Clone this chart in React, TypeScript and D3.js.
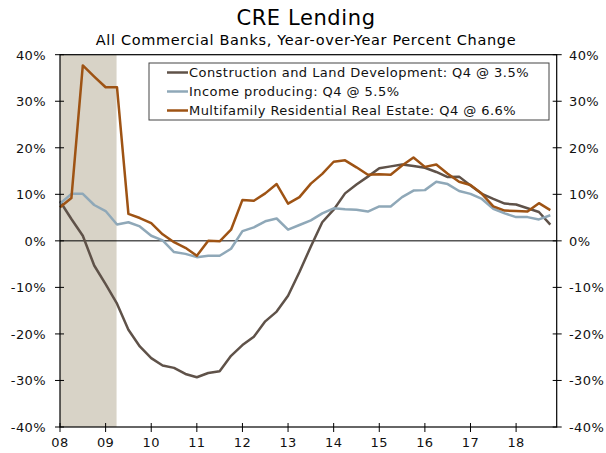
import * as d3 from "d3";

const startYear = 2008;
const yearLabels = ["08", "09", "10", "11", "12", "13", "14", "15", "16", "17", "18"];
const yTicks = [-40, -30, -20, -10, 0, 10, 20, 30, 40];
const recession = [2008.0, 2009.24];

// quarterly, 2008Q1 .. 2018Q4
const construction = [
  8.5, 4.7, 1.1, -5.3, -9.3, -13.5, -19.1, -22.7, -25.2, -26.8, -27.3, -28.6,
  -29.3, -28.4, -28.0, -24.7, -22.4, -20.6, -17.3, -15.2, -11.8, -6.7, -1.2, 4.0,
  6.7, 10.2, 12.1, 13.8, 15.6, 16.0, 16.4, 16.1, 15.7, 14.8, 13.7, 13.8,
  11.9, 10.1, 9.0, 8.0, 7.8, 7.0, 6.2, 3.5,
];
const income = [
  8.0, 10.1, 10.1, 7.7, 6.4, 3.5, 4.0, 3.1, 1.1, 0.1, -2.4, -2.8,
  -3.5, -3.2, -3.2, -1.7, 2.1, 2.9, 4.2, 4.8, 2.4, 3.4, 4.4, 5.9,
  7.0, 6.8, 6.7, 6.3, 7.4, 7.4, 9.4, 10.8, 10.9, 12.7, 12.2, 10.7,
  10.1, 9.0, 6.9, 5.9, 5.1, 5.1, 4.6, 5.5,
];
const multifamily = [
  7.2, 9.2, 37.7, 35.3, 33.0, 33.0, 5.8, 4.9, 3.8, 1.4, -0.3, -1.5,
  -3.2, 0.0, -0.1, 2.4, 8.8, 8.6, 10.2, 12.2, 8.0, 9.4, 12.3, 14.4,
  17.0, 17.3, 15.8, 14.2, 14.3, 14.2, 16.2, 17.9, 15.9, 16.4, 14.4, 12.7,
  12.0, 10.1, 7.4, 6.5, 6.4, 6.3, 8.1, 6.6,
];

const series = [
  { name: "Construction and Land Development: Q4 @ 3.5%", values: construction, color: "#5f5249" },
  { name: "Income producing: Q4 @ 5.5%", values: income, color: "#8fa8b8" },
  { name: "Multifamily Residential Real Estate: Q4 @ 6.6%", values: multifamily, color: "#9e5314" },
];

const font = "Verdana, 'DejaVu Sans', sans-serif";

export default function App() {
  const width = 606;
  const height = 453;
  const left = 60;
  const right = 556.7;
  const top = 54.7;
  const bottom = 427;

  const x = d3.scaleLinear().domain([2008, 2018.89]).range([left, right]);
  const y = d3.scaleLinear().domain([-40, 40]).range([bottom, top]);

  const line = d3
    .line<number>()
    .x((_, i) => x(startYear + i / 4))
    .y((d) => y(d));

  return (
    <svg
      width={width}
      height={height}
      style={{ position: "absolute", left: 0, top: 0, fontFamily: font }}
    >
      <rect width={width} height={height} fill="#fff" />
      <text x={306} y={25} textAnchor="middle" fontSize={21} letterSpacing={0.6} fill="#000">
        CRE Lending
      </text>
      <text x={306} y={45} textAnchor="middle" fontSize={14.5} letterSpacing={0.65} fill="#000">
        All Commercial Banks, Year-over-Year Percent Change
      </text>

      <rect
        x={x(recession[0])}
        y={top}
        width={x(recession[1]) - x(recession[0])}
        height={bottom - top}
        fill="#d8d3c7"
      />

      <line x1={left} x2={right} y1={y(0)} y2={y(0)} stroke="#000" strokeWidth={1} />

      {series.map((s) => (
        <path
          key={s.name}
          d={line(s.values) ?? ""}
          fill="none"
          stroke={s.color}
          strokeWidth={2.5}
          strokeLinejoin="round"
        />
      ))}

      {/* frame */}
      <rect x={left} y={top} width={right - left} height={bottom - top} fill="none" stroke="#000" strokeWidth={1.2} />

      {yTicks.map((t) => (
        <g key={t}>
          <line x1={left - 5} x2={left + 4} y1={y(t)} y2={y(t)} stroke="#000" />
          <line x1={right - 4} x2={right + 5} y1={y(t)} y2={y(t)} stroke="#000" />
          <text x={46} y={y(t) + 5} textAnchor="end" fontSize={13} letterSpacing={0.4} fill="#111">
            {t}%
          </text>
          <text x={569} y={y(t) + 5} textAnchor="start" fontSize={13} letterSpacing={0.4} fill="#111">
            {t}%
          </text>
        </g>
      ))}

      {yearLabels.map((lab, i) => (
        <g key={lab}>
          <line x1={x(startYear + i)} x2={x(startYear + i)} y1={bottom - 4} y2={bottom + 5} stroke="#000" />
          <text x={x(startYear + i)} y={bottom + 20} textAnchor="middle" fontSize={13} letterSpacing={0.4} fill="#111">
            {lab}
          </text>
        </g>
      ))}

      <g>
        <rect x={149} y={63} width={400} height={57} fill="#fff" stroke="#444" strokeWidth={1} />
        {series.map((s, i) => (
          <g key={s.name} transform={`translate(0, ${72.5 + i * 19})`}>
            <line x1={167} x2={188} y1={0} y2={0} stroke={s.color} strokeWidth={2.5} />
            <text x={189} y={4.5} fontSize={13} letterSpacing={0.45} fill="#111">
              {s.name}
            </text>
          </g>
        ))}
      </g>
    </svg>
  );
}
